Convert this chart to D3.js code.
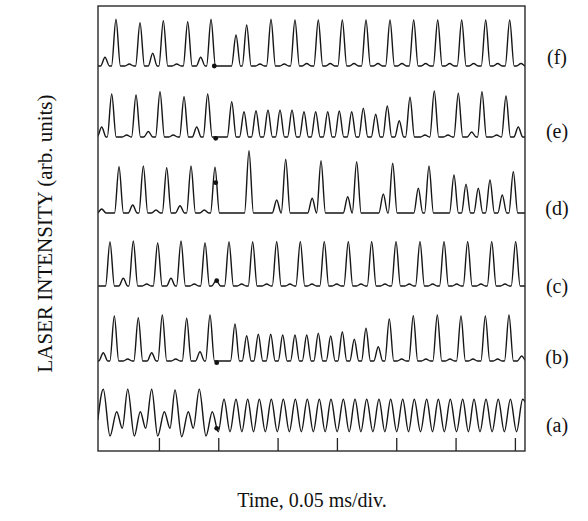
<!DOCTYPE html>
<html>
<head>
<meta charset="utf-8">
<script src="https://cdn.jsdelivr.net/npm/d3@7/dist/d3.min.js"></script>
<style>
  html, body { margin: 0; padding: 0; background: #fff; }
  svg { display: block; }
</style>
</head>
<body>
<script>
// ---------------- DATA (time in divisions of 0.05 ms, intensity in arb. units) ----------------
const traceLabels = ["(a)", "(b)", "(c)", "(d)", "(e)", "(f)"];
// baseline level of each spiking trace (b..f)
const baselines = { b: 9.0, c: 16.5, d: 23.8, e: 31.4, f: 38.5 };
const tickDivs = [1, 2, 3, 4, 5, 6, 7];

// trace (a): successive extrema [time, level]
const extremaA = [
  [-0.03, 3.1], [0.062, 6.17], [0.175, 1.5], [0.288, 3.93], [0.383, 2.27],
  [0.474, 6.17], [0.585, 1.5], [0.686, 3.93], [0.777, 2.27],
  [0.878, 6.17], [0.979, 1.5], [1.091, 3.93], [1.187, 2.27],
  [1.271, 6.1], [1.384, 1.43], [1.495, 3.93], [1.579, 2.27],
  [1.680, 6.17], [1.793, 1.5], [1.900, 3.93], [2.000, 1.93],
  [2.097, 5.17], [2.198, 1.93], [2.299, 5.17], [2.398, 1.93], [2.496, 5.17], [2.594, 1.93],
  [2.692, 5.17], [2.793, 1.93], [2.894, 5.17], [2.995, 1.93], [3.096, 5.17], [3.198, 1.93],
  [3.299, 5.17], [3.400, 1.93], [3.501, 5.17], [3.602, 1.93], [3.703, 5.17], [3.802, 1.93],
  [3.900, 5.17], [4.004, 1.93], [4.108, 5.17], [4.207, 1.93], [4.305, 5.17], [4.404, 1.93],
  [4.502, 5.17], [4.606, 1.93], [4.709, 5.17], [4.808, 1.93], [4.906, 5.17], [5.008, 1.93],
  [5.109, 5.17], [5.207, 1.93], [5.304, 5.17], [5.409, 1.93], [5.513, 5.17], [5.611, 1.93],
  [5.709, 5.17], [5.810, 1.93], [5.911, 5.17], [6.016, 1.93], [6.120, 5.17], [6.216, 1.93],
  [6.311, 5.17], [6.412, 1.93], [6.513, 5.17], [6.616, 1.93], [6.719, 5.17], [6.822, 1.93],
  [6.924, 5.17], [7.028, 1.93], [7.131, 5.17], [7.20, 4.6]
];

// traces (b)..(f): pulses [time, height above baseline]
const peaksB = [
  [0.062, 0.83], [0.248, 4.5], [0.474, 0.2], [0.652, 4.33], [0.878, 0.83], [1.057, 4.6],
  [1.283, 0.2], [1.468, 4.27], [1.692, 0.93], [1.861, 4.6],
  [2.282, 3.7], [2.479, 2.53], [2.675, 2.67], [2.884, 2.67], [3.086, 2.6], [3.293, 2.6],
  [3.491, 2.6], [3.686, 2.77], [3.895, 2.5], [4.091, 2.93], [4.293, 2.17], [4.490, 3.27],
  [4.697, 1.43], [4.883, 4.2], [5.092, 0.2], [5.287, 4.53], [5.501, 0.2], [5.692, 4.6],
  [5.906, 0.2], [6.091, 4.5], [6.294, 0.2], [6.502, 4.5], [6.710, 0.2], [6.900, 4.6], [7.115, 0.5]
];
const peaksC = [
  [0.175, 4.43], [0.399, 0.77], [0.568, 4.5], [0.794, 0.2], [0.979, 4.33], [1.203, 0.77],
  [1.372, 4.5], [1.596, 0.2], [1.777, 4.33], [1.965, 0.55], [2.181, 4.43], [2.395, 0.2],
  [2.580, 4.43], [2.816, 0.2], [2.985, 4.45], [3.209, 0.2], [3.383, 4.45], [3.580, 0.2],
  [3.787, 4.45], [3.996, 0.2], [4.192, 4.45], [4.406, 0.2], [4.586, 4.45], [4.810, 0.2],
  [4.996, 4.45], [5.220, 0.2], [5.400, 4.45], [5.614, 0.2], [5.805, 4.45], [6.019, 0.2],
  [6.204, 4.45], [6.428, 0.2], [6.609, 4.45], [6.833, 0.2], [7.013, 4.45]
];
const peaksD = [
  [0.035, 0.4], [0.327, 4.63], [0.558, 0.8], [0.737, 4.7], [0.951, 0.3], [1.131, 4.53],
  [1.355, 0.73], [1.541, 4.7], [1.765, 0.3], [1.945, 4.57],
  [2.518, 6.23], [2.985, 1.3], [3.137, 5.37], [3.583, 1.47], [3.732, 5.23], [4.182, 1.63],
  [4.333, 5.13], [4.782, 1.9], [4.940, 4.97], [5.372, 2.47], [5.552, 4.7], [5.973, 3.8],
  [6.176, 2.87], [6.383, 2.47], [6.580, 3.3], [6.787, 1.8], [6.973, 4.13]
];
const peaksE = [
  [0.035, 1.0], [0.204, 4.3], [0.457, 0.2], [0.614, 4.2], [0.821, 0.55], [1.018, 4.53],
  [1.242, 0.2], [1.423, 4.03], [1.637, 1.0], [1.822, 4.3],
  [2.227, 3.53], [2.434, 2.53], [2.636, 2.63], [2.838, 2.7], [3.041, 2.7], [3.243, 2.7],
  [3.445, 2.53], [3.642, 2.53], [3.845, 2.53], [4.040, 2.6], [4.249, 2.53], [4.445, 2.87],
  [4.654, 2.27], [4.849, 3.1], [5.051, 1.63], [5.232, 3.97], [5.485, 0.2], [5.641, 4.6],
  [5.872, 0.2], [6.046, 4.37], [6.272, 0.5], [6.445, 4.53], [6.693, 0.2], [6.850, 4.1], [7.057, 1.0]
];
const peaksF = [
  [0.091, 0.87], [0.276, 4.67], [0.501, 0.2], [0.681, 4.33], [0.895, 1.27], [1.074, 4.53],
  [1.300, 0.2], [1.485, 4.43], [1.704, 0.87], [1.878, 4.67],
  [2.299, 3.1], [2.479, 4.1], [2.704, 0.2], [2.889, 4.67], [3.113, 0.2], [3.293, 4.6],
  [3.491, 0.25], [3.686, 4.6], [3.888, 0.25], [4.091, 4.6], [4.288, 0.25], [4.490, 4.6],
  [4.692, 0.25], [4.895, 4.6], [5.097, 0.25], [5.294, 4.6], [5.496, 0.25], [5.699, 4.6],
  [5.901, 0.25], [6.103, 4.6], [6.305, 0.25], [6.508, 4.6], [6.710, 0.25], [6.912, 4.6], [7.103, 0.25]
];
// trigger markers [time, level]
const markers = [
  [1.974, 2.27], [1.974, 8.83], [1.974, 17.03], [1.957, 26.83], [1.957, 31.27], [1.933, 38.5]
];
// label levels (a)..(f)
const labelLevels = [2.6, 9.4, 16.5, 24.3, 32.0, 39.4];

// ---------------- LAYOUT ----------------
const W = 588, H = 521;
const frameDiv = [-0.027, 7.17];
const x = d3.scaleLinear().domain([0, 7]).range([99.6, 514.9]);
const y = d3.scaleLinear().domain([0, 44.5]).range([451, 6]);
const halfWidth = 0.075; // pulse half width (div)

const svg = d3.select("body").append("svg").attr("width", W).attr("height", H);

svg.append("defs").append("clipPath").attr("id", "clip")
  .append("rect")
  .attr("x", x(frameDiv[0])).attr("y", y(44.5))
  .attr("width", x(frameDiv[1]) - x(frameDiv[0]))
  .attr("height", y(0) - y(44.5));

function pulsePoints(peaks, base) {
  const pts = [[frameDiv[0] - 0.05, base]];
  peaks.forEach(([t, h], i) => {
    let l = t - halfWidth, r = t + halfWidth;
    if (i > 0) { const pt = peaks[i - 1][0]; if (l < pt + halfWidth) l = (pt + t) / 2; }
    if (i < peaks.length - 1) { const nt = peaks[i + 1][0]; if (r > nt - halfWidth) r = (t + nt) / 2; }
    if (pts[pts.length - 1][0] < l - 1e-6) pts.push([l, base]);
    pts.push([t, base + h]);
    pts.push([r, base]);
  });
  pts.push([frameDiv[1] + 0.05, base]);
  return pts;
}

const line = d3.line().x(d => x(d[0])).y(d => y(d[1])).curve(d3.curveMonotoneX);

const traces = [
  extremaA,
  pulsePoints(peaksB, baselines.b),
  pulsePoints(peaksC, baselines.c),
  pulsePoints(peaksD, baselines.d),
  pulsePoints(peaksE, baselines.e),
  pulsePoints(peaksF, baselines.f)
];

const g = svg.append("g").attr("clip-path", "url(#clip)");
g.selectAll("path.trace").data(traces).enter().append("path")
  .attr("class", "trace")
  .attr("d", line)
  .attr("fill", "none")
  .attr("stroke", "#161616")
  .attr("stroke-width", 1.4)
  .attr("stroke-linejoin", "round");

g.selectAll("circle.mark").data(markers).enter().append("circle")
  .attr("cx", d => x(d[0])).attr("cy", d => y(d[1]))
  .attr("r", 2.4).attr("fill", "#111");

// frame
svg.append("rect")
  .attr("x", x(frameDiv[0])).attr("y", y(44.5))
  .attr("width", x(frameDiv[1]) - x(frameDiv[0]))
  .attr("height", y(0) - y(44.5))
  .attr("fill", "none").attr("stroke", "#2a2a2a").attr("stroke-width", 1.4);

// bottom ticks (inward)
const axis = svg.append("g").attr("transform", `translate(0,${y(0)})`)
  .call(d3.axisBottom(x).tickValues(tickDivs).tickSize(-13).tickFormat(""));
axis.select(".domain").remove();
axis.selectAll(".tick line").attr("stroke", "#222").attr("stroke-width", 1.3);

// trace labels
svg.selectAll("text.lab").data(traceLabels).enter().append("text")
  .attr("x", 557).attr("y", (d, i) => y(labelLevels[i]))
  .attr("text-anchor", "middle").attr("dominant-baseline", "central")
  .attr("font-family", "Liberation Serif, serif").attr("font-size", 20)
  .attr("fill", "#111").text(d => d);

// axis titles
svg.append("text")
  .attr("transform", `translate(45,${(y(0) + y(44.5)) / 2 + 5}) rotate(-90)`)
  .attr("text-anchor", "middle").attr("dominant-baseline", "central")
  .attr("font-family", "Liberation Serif, serif").attr("font-size", 21)
  .attr("fill", "#111").text("LASER INTENSITY (arb. units)");

svg.append("text")
  .attr("x", 312).attr("y", 500)
  .attr("text-anchor", "middle").attr("dominant-baseline", "central")
  .attr("font-family", "Liberation Serif, serif").attr("font-size", 20)
  .attr("fill", "#111").text("Time, 0.05 ms/div.");
</script>
</body>
</html>
